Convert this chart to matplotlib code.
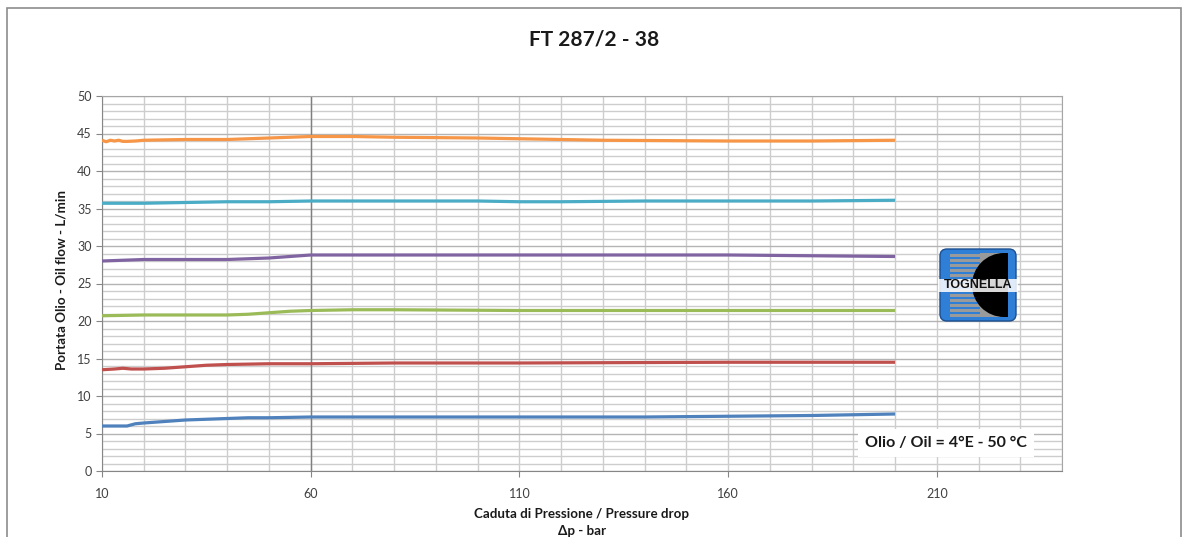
import matplotlib
matplotlib.use("Agg")
import matplotlib.pyplot as plt
from matplotlib.patches import FancyBboxPatch, Rectangle, Wedge
from matplotlib.ticker import MultipleLocator, FixedLocator

plt.rcParams['font.family'] = ['Lato', 'DejaVu Sans']

# Pressure drop (bar) and oil flow (L/min) for each curve
dp_orange = [10, 11, 12, 13, 14, 15, 16, 18, 20, 30, 40, 45, 50, 55, 60, 70, 80, 100, 110, 120, 130, 160, 180, 200]
q_orange = [44.1, 43.9, 44.1, 44.0, 44.1, 43.95, 43.95, 44.0, 44.1, 44.2, 44.2, 44.3, 44.4, 44.5, 44.6, 44.6, 44.5, 44.4, 44.3, 44.2, 44.1, 44.0, 44.0, 44.1]

dp_cyan = [10, 20, 30, 40, 50, 60, 80, 100, 110, 120, 140, 160, 180, 200]
q_cyan = [35.7, 35.7, 35.8, 35.9, 35.9, 36.0, 36.0, 36.0, 35.9, 35.9, 36.0, 36.0, 36.0, 36.1]

dp_purple = [10, 15, 20, 30, 40, 50, 55, 60, 70, 80, 110, 140, 160, 180, 200]
q_purple = [28.0, 28.1, 28.2, 28.2, 28.2, 28.4, 28.6, 28.8, 28.8, 28.8, 28.8, 28.8, 28.8, 28.7, 28.6]

dp_green = [10, 20, 30, 40, 45, 50, 55, 60, 70, 80, 110, 140, 160, 200]
q_green = [20.7, 20.8, 20.8, 20.8, 20.9, 21.1, 21.3, 21.4, 21.5, 21.5, 21.4, 21.4, 21.4, 21.4]

dp_red = [10, 13, 15, 17, 20, 25, 30, 35, 40, 50, 60, 80, 110, 160, 200]
q_red = [13.5, 13.6, 13.7, 13.6, 13.6, 13.7, 13.9, 14.1, 14.2, 14.3, 14.3, 14.4, 14.4, 14.5, 14.5]

dp_blue = [10, 14, 16, 18, 20, 30, 40, 45, 50, 60, 80, 110, 140, 160, 180, 200]
q_blue = [6.0, 6.0, 6.0, 6.3, 6.4, 6.8, 7.0, 7.1, 7.1, 7.2, 7.2, 7.2, 7.2, 7.3, 7.4, 7.6]

series = [
    (dp_orange, q_orange, '#F79646'),
    (dp_cyan, q_cyan, '#4BACC6'),
    (dp_purple, q_purple, '#8064A2'),
    (dp_green, q_green, '#9BBB59'),
    (dp_red, q_red, '#C0504D'),
    (dp_blue, q_blue, '#4F81BD'),
]

x_major = [10, 60, 110, 160, 210]
y_major = [0, 5, 10, 15, 20, 25, 30, 35, 40, 45, 50]

W, H = 1189, 537
fig = plt.figure(figsize=(W / 100, H / 100), dpi=100)
fig.patch.set_facecolor('white')

# outer chart frame
fig.add_artist(Rectangle((7 / W, -0.02), (1181 - 7) / W, 1.02 - 8 / H, transform=fig.transFigure,
                         fill=False, edgecolor='#8c8c8c', linewidth=1.2))

ax = fig.add_axes([102 / W, 1 - 471 / H, (1062 - 102) / W, (471 - 96) / H])
ax.set_xlim(10, 240)
ax.set_ylim(0, 50)

ax.xaxis.set_major_locator(FixedLocator(x_major))
ax.xaxis.set_minor_locator(MultipleLocator(10))
ax.yaxis.set_major_locator(FixedLocator(y_major))
ax.yaxis.set_minor_locator(MultipleLocator(1))

ax.grid(which='minor', axis='both', color='#cdcdcd', linewidth=1.0)
ax.grid(which='major', axis='y', color='#b4b4b4', linewidth=1.0)
ax.grid(which='major', axis='x', color='#cdcdcd', linewidth=1.0)
ax.axvline(60, color='#7f7f7f', linewidth=1.0, zorder=0.6)
ax.set_axisbelow(True)

for side in ['top', 'right']:
    ax.spines[side].set_color('#a6a6a6')
for side in ['left', 'bottom']:
    ax.spines[side].set_color('#868686')

ax.tick_params(axis='both', which='major', length=4, color='#868686', labelsize=9,
               labelcolor='#404040', direction='out')
ax.tick_params(axis='both', which='minor', length=0)
ax.tick_params(axis='x', pad=8)

for xs, ys, c in series:
    ax.plot(xs, ys, color=c, linewidth=2.3, solid_capstyle='butt', zorder=3)

fig.text(594 / W, 1 - 40 / H, 'FT 287/2 - 38', ha='center', va='center',
         fontsize=15, fontweight='bold', color='#1a1a1a')
fig.text(582 / W, 1 - 514 / H, 'Caduta di Pressione / Pressure drop', ha='center', va='center',
         fontsize=9.6, fontweight='bold', color='#1a1a1a')
fig.text(582 / W, 1 - 531 / H, 'Δp - bar', ha='center', va='center',
         fontsize=9.6, fontweight='bold', color='#1a1a1a')
fig.text(61 / W, 1 - 280 / H, 'Portata Olio - Oil flow - L/min', ha='center', va='center',
         rotation=90, fontsize=9.6, fontweight='bold', color='#1a1a1a')

# oil specification box
ax.text((946 - 102) / 960, (471 - 443) / 375, 'Olio / Oil = 4°E - 50 °C', transform=ax.transAxes,
        ha='center', va='center', fontsize=11.5, fontweight='bold', color='#1a1a1a', zorder=5,
        bbox=dict(boxstyle='square,pad=0.45', facecolor='white', edgecolor='none'))

# TOGNELLA logo
lax = fig.add_axes([938 / W, 1 - 323 / H, 80 / W, 76 / H])
lax.set_xlim(0, 80)
lax.set_ylim(0, 76)
lax.axis('off')
lax.add_patch(FancyBboxPatch((2, 2), 76, 72, boxstyle='round,pad=0,rounding_size=7',
                             facecolor='#2f7fd6', edgecolor='#1c4f8f', linewidth=1.0))
for i in range(13):
    yy = 6 + i * 5
    lax.add_patch(Rectangle((12, yy), 30, 3.2, facecolor='#9a9a9a', edgecolor='none'))
lax.add_patch(Rectangle((42, 6), 24, 64, facecolor='#9a9a9a', edgecolor='none'))
lax.add_patch(Wedge((66, 38), 32, 90, 270, facecolor='black', edgecolor='none'))
lax.add_patch(Rectangle((66, 6), 4, 64, facecolor='black', edgecolor='none'))
lax.add_patch(Rectangle((0, 31), 80, 13, facecolor='white', edgecolor='none', alpha=0.85))
lax.text(40, 37.5, 'TOGNELLA', ha='center', va='center', fontsize=9, fontweight='bold',
         color='#111111', family=['Liberation Sans', 'DejaVu Sans'])

fig.savefig('out.png', dpi=100, facecolor='white')
